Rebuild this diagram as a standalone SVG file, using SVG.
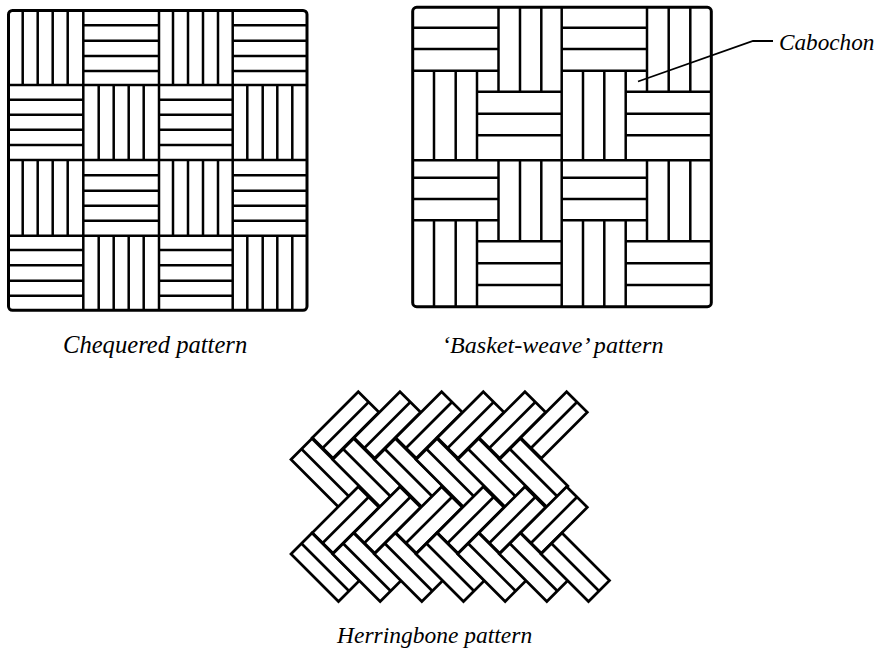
<svg xmlns="http://www.w3.org/2000/svg" width="878" height="650" viewBox="0 0 878 650">
<defs>
<style>
.l{fill:none;stroke:#000;stroke-width:2.5}
.o{fill:none;stroke:#000;stroke-width:3}
.t{font-family:"Liberation Serif",serif;font-style:italic;fill:#000}
.h{fill:#fff;stroke:#000;stroke-width:2.7;stroke-linejoin:miter}
</style>
<g id="ne"><polygon class="h" points="358.3,391.7 379,412.3 333,458.3 312.3,437.7"/><line class="h" x1="368.7" y1="402" x2="322.7" y2="448"/></g>
<g id="se"><polygon class="h" points="291,459.5 312,438.5 359.5,486 338.5,507"/><line class="h" x1="301.5" y1="449" x2="349" y2="496.5"/></g>
</defs>
<rect width="878" height="650" fill="#fff"/>
<g id="chequered">
<rect class="o" x="8.5" y="10.5" width="298.5" height="299.8" rx="4"/>
<path class="l" d="M83.3 10.5V310.3M159 10.5V310.3M232.7 10.5V310.3M8.5 85H307M8.5 160H307M8.5 235.7H307"/>
<path class="l" d="M22.7 10.5V85M37.7 10.5V85M52.7 10.5V85M67.7 10.5V85M173 10.5V85M188 10.5V85M203 10.5V85M218 10.5V85"/>
<path class="l" d="M83.3 25.3H159M83.3 40.7H159M83.3 56H159M83.3 71H159M232.7 25.3H307M232.7 40.7H307M232.7 56H307M232.7 71H307"/>
<path class="l" d="M8.5 99.7H83.3M8.5 114.7H83.3M8.5 129.7H83.3M8.5 145H83.3M159 99.7H232.7M159 114.7H232.7M159 129.7H232.7M159 145H232.7"/>
<path class="l" d="M98.7 85V160M113.7 85V160M128.7 85V160M143.7 85V160M247.3 85V160M262.7 85V160M277.3 85V160M292.3 85V160"/>
<path class="l" d="M22.7 160V235.7M37.7 160V235.7M52.7 160V235.7M67.7 160V235.7M173 160V235.7M188 160V235.7M203 160V235.7M218 160V235.7"/>
<path class="l" d="M83.3 175.3H159M83.3 190.7H159M83.3 205.7H159M83.3 220.7H159M232.7 175.3H307M232.7 190.7H307M232.7 205.7H307M232.7 220.7H307"/>
<path class="l" d="M8.5 250H83.3M8.5 265.3H83.3M8.5 280.7H83.3M8.5 295.7H83.3M159 250H232.7M159 265.3H232.7M159 280.7H232.7M159 295.7H232.7"/>
<path class="l" d="M98.7 235.7V310.3M113.7 235.7V310.3M128.7 235.7V310.3M143.7 235.7V310.3M247.3 235.7V310.3M262.7 235.7V310.3M277.3 235.7V310.3M292.3 235.7V310.3"/>
</g>
<g id="basket-weave">
<rect class="o" x="412.7" y="7.3" width="298.6" height="299.4" rx="4"/>
<path class="l" d="M561.7 7.3V306.7M412.7 160.3H711.3"/>
<path class="l" d="M412.7 27.7H498.5M412.7 49H498.5M412.7 70.7H498.5M561.7 27.7H647M561.7 49H647M561.7 70.7H647"/>
<path class="l" d="M498.5 7.3V91.7M520 7.3V91.7M541.3 7.3V91.7M647 7.3V91.7M668.7 7.3V91.7M690.3 7.3V91.7"/>
<path class="l" d="M434 70.7V160.3M455.7 70.7V160.3M477 70.7V160.3M583 70.7V160.3M604.3 70.7V160.3M625.7 70.7V160.3"/>
<path class="l" d="M477 91.7H561.7M477 113.7H561.7M477 135.3H561.7M625.7 91.7H711.3M625.7 113.7H711.3M625.7 135.3H711.3"/>
<path class="l" d="M412.7 177.7H498.5M412.7 199H498.5M412.7 220.3H498.5M561.7 177.7H647M561.7 199H647M561.7 220.3H647"/>
<path class="l" d="M498.5 160.3V241.3M520 160.3V241.3M541.3 160.3V241.3M647 160.3V241.3M668.7 160.3V241.3M690.3 160.3V241.3"/>
<path class="l" d="M434 220.3V306.7M455.7 220.3V306.7M477 220.3V306.7M583 220.3V306.7M604.3 220.3V306.7M625.7 220.3V306.7"/>
<path class="l" d="M477 241.3H561.7M477 263.3H561.7M477 285H561.7M625.7 241.3H711.3M625.7 263.3H711.3M625.7 285H711.3"/>
</g>
<g id="connectors"><polyline points="638,81.5 753,41 773,41" fill="none" stroke="#000" stroke-width="1.8"/></g>
<g id="herringbone">
<use href="#ne"/><use href="#ne" x="41.67"/><use href="#ne" x="83.33"/><use href="#ne" x="125"/><use href="#ne" x="166.67"/><use href="#ne" x="208.33"/>
<use href="#se"/><use href="#se" x="41.67"/><use href="#se" x="83.33"/><use href="#se" x="125"/><use href="#se" x="166.67"/><use href="#se" x="208.33"/>
<use href="#ne" y="95"/><use href="#ne" x="41.67" y="95"/><use href="#ne" x="83.33" y="95"/><use href="#ne" x="125" y="95"/><use href="#ne" x="166.67" y="95"/><use href="#ne" x="208.33" y="95"/>
<use href="#se" y="94.5"/><use href="#se" x="41.67" y="94.5"/><use href="#se" x="83.33" y="94.5"/><use href="#se" x="125" y="94.5"/><use href="#se" x="166.67" y="94.5"/><use href="#se" x="208.33" y="94.5"/><use href="#se" x="250" y="94.5"/>
</g>
<text class="t" x="63" y="353" font-size="24.6">Chequered pattern</text>
<text class="t" x="442" y="353" font-size="24.1">‘Basket-weave’ pattern</text>
<text class="t" x="337" y="643" font-size="23.5">Herringbone pattern</text>
<text class="t" x="779" y="50" font-size="23.2">Cabochon</text>
</svg>
